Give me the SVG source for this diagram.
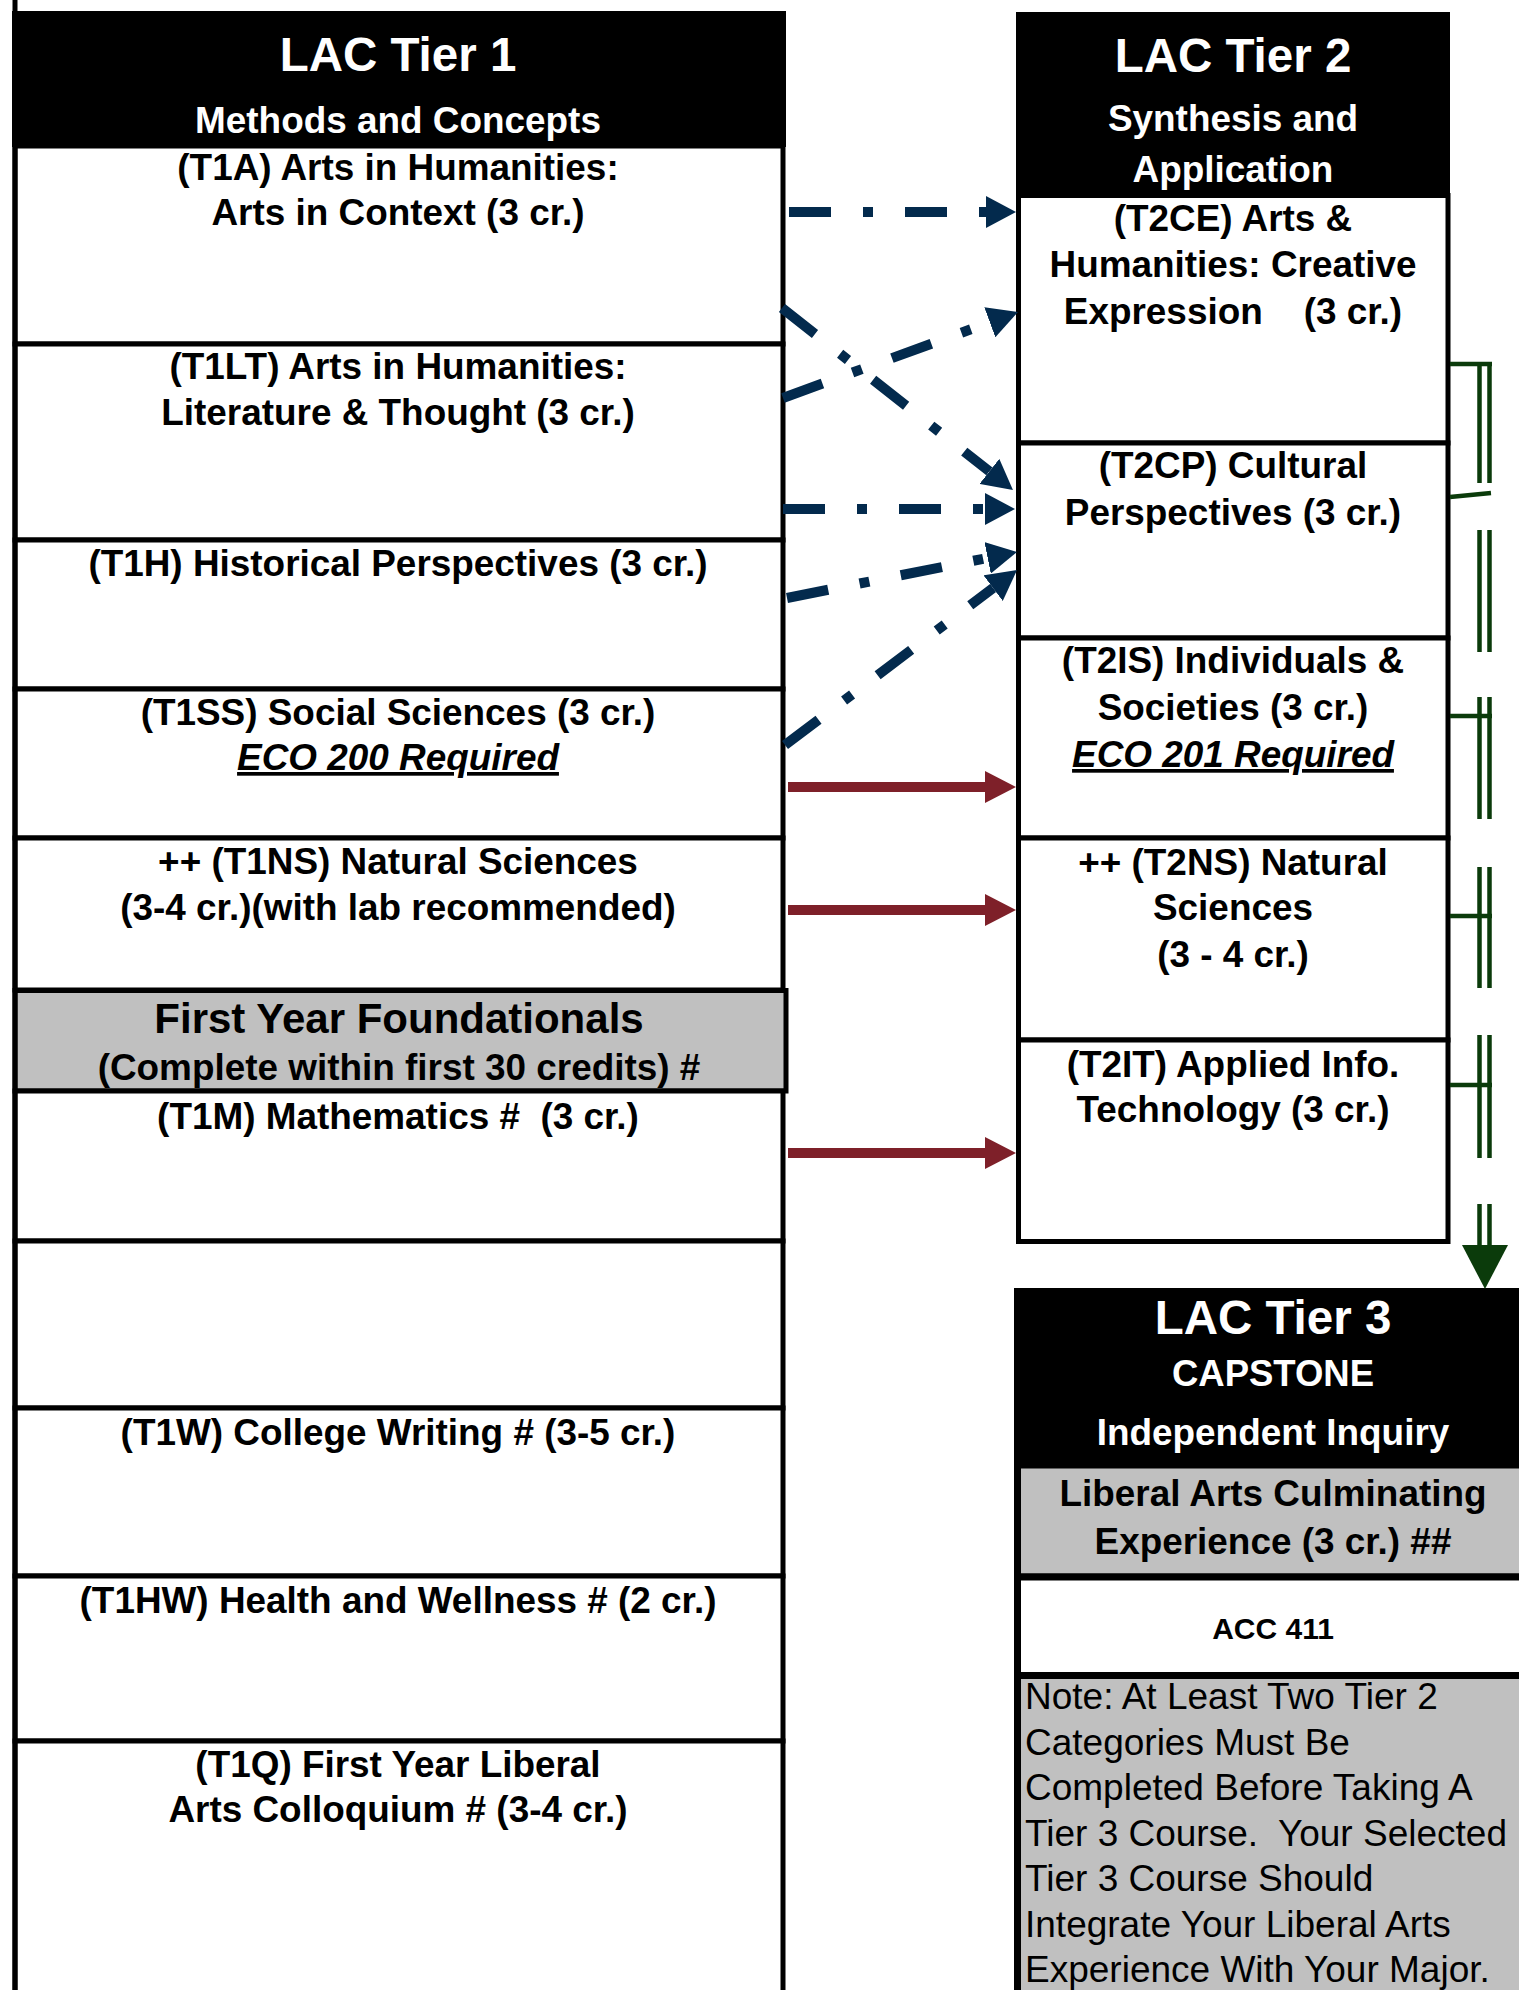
<svg xmlns="http://www.w3.org/2000/svg" width="1519" height="1990" viewBox="0 0 1519 1990">
<defs>
<style>
.box{fill:#fff;stroke:#000;stroke-width:5}
.gbox{fill:#c0c0c0;stroke:#000;stroke-width:5}
.box3{fill:#fff;stroke:#000;stroke-width:7}
.gbox3{fill:#c0c0c0;stroke:#000;stroke-width:7}
.hdr{fill:#000}
text{font-family:"Liberation Sans",Arial,sans-serif;font-weight:bold;font-size:36.9px;text-anchor:middle;fill:#000;white-space:pre}
.w{fill:#fff}
.big{font-size:47.5px}
.ital{font-style:italic;text-decoration:underline}
.note{font-weight:normal;font-size:37px;text-anchor:start}
.blue{fill:none;stroke:#032a4d;stroke-width:10;stroke-dasharray:42 32 10 32}
.red{fill:none;stroke:#7e2029;stroke-width:10}
.grn{fill:none;stroke:#0b3b0b;stroke-width:4.5}
</style>
<marker id="ab" viewBox="0 -16 30 32" markerUnits="userSpaceOnUse" markerWidth="30" markerHeight="32" refX="0" refY="0" orient="auto"><path d="M0,-16 L30,0 L0,16 z" fill="#032a4d"/></marker>
<marker id="ar" viewBox="0 -16 31 32" markerUnits="userSpaceOnUse" markerWidth="31" markerHeight="32" refX="0" refY="0" orient="auto"><path d="M0,-16 L31,0 L0,16 z" fill="#7e2029"/></marker>
</defs>
<rect width="1519" height="1990" fill="#fff"/>

<g id="tier1">
<g id="t1-header"><rect class="hdr" x="12" y="11" width="774" height="136"/>
<text class="w big" x="398" y="71">LAC Tier 1</text>
<text class="w" x="398" y="133">Methods and Concepts</text></g>
<g id="T1A"><rect class="box" x="15" y="146" width="768" height="198"/>
<text x="398" y="180">(T1A) Arts in Humanities:</text>
<text x="398" y="225">Arts in Context (3 cr.)</text></g>
<g id="T1LT"><rect class="box" x="15" y="344" width="768" height="196"/>
<text x="398" y="379">(T1LT) Arts in Humanities:</text>
<text x="398" y="425">Literature &amp; Thought (3 cr.)</text></g>
<g id="T1H"><rect class="box" x="15" y="540" width="768" height="149"/>
<text x="398" y="576">(T1H) Historical Perspectives (3 cr.)</text></g>
<g id="T1SS"><rect class="box" x="15" y="689" width="768" height="149"/>
<text x="398" y="725">(T1SS) Social Sciences (3 cr.)</text>
<text class="ital" x="398" y="770">ECO 200 Required</text></g>
<g id="T1NS"><rect class="box" x="15" y="838" width="768" height="152"/>
<text x="398" y="874">++ (T1NS) Natural Sciences</text>
<text x="398" y="920">(3-4 cr.)(with lab recommended)</text></g>
<g id="FYF"><rect class="gbox" x="15" y="990.5" width="771" height="100.5"/>
<text x="399" y="1033" style="font-size:42px">First Year Foundationals</text>
<text x="399" y="1080">(Complete within first 30 credits) #</text></g>
<g id="T1M"><rect class="box" x="15" y="1091" width="768" height="150"/>
<text x="398" y="1129">(T1M) Mathematics #  (3 cr.)</text></g>
<g id="T1-empty"><rect class="box" x="15" y="1241" width="768" height="167"/></g>
<g id="T1W"><rect class="box" x="15" y="1408" width="768" height="168"/>
<text x="398" y="1445">(T1W) College Writing # (3-5 cr.)</text></g>
<g id="T1HW"><rect class="box" x="15" y="1576" width="768" height="165"/>
<text x="398" y="1613">(T1HW) Health and Wellness # (2 cr.)</text></g>
<g id="T1Q"><rect class="box" x="15" y="1741" width="768" height="270"/>
<text x="398" y="1777">(T1Q) First Year Liberal</text>
<text x="398" y="1822">Arts Colloquium # (3-4 cr.)</text></g>
<line x1="15" y1="0" x2="15" y2="1990" stroke="#000" stroke-width="5"/>
</g>

<g id="tier2">
<g id="t2-header"><rect class="hdr" x="1016" y="12" width="434" height="184"/>
<text class="w big" x="1233" y="72">LAC Tier 2</text>
<text class="w" x="1233" y="131">Synthesis and</text>
<text class="w" x="1233" y="182">Application</text></g>
<g id="T2CE"><rect class="box" x="1018.5" y="195.5" width="429.5" height="247.5"/>
<text x="1233" y="231">(T2CE) Arts &amp;</text>
<text x="1233" y="277">Humanities: Creative</text>
<text x="1233" y="324">Expression    (3 cr.)</text></g>
<g id="T2CP"><rect class="box" x="1018.5" y="443" width="429.5" height="195"/>
<text x="1233" y="478">(T2CP) Cultural</text>
<text x="1233" y="525">Perspectives (3 cr.)</text></g>
<g id="T2IS"><rect class="box" x="1018.5" y="638" width="429.5" height="200"/>
<text x="1233" y="673">(T2IS) Individuals &amp;</text>
<text x="1233" y="720">Societies (3 cr.)</text>
<text class="ital" x="1233" y="767">ECO 201 Required</text></g>
<g id="T2NS"><rect class="box" x="1018.5" y="838" width="429.5" height="202"/>
<text x="1233" y="875">++ (T2NS) Natural</text>
<text x="1233" y="920">Sciences</text>
<text x="1233" y="967">(3 - 4 cr.)</text></g>
<g id="T2IT"><rect class="box" x="1018.5" y="1040" width="429.5" height="201.5"/>
<text x="1233" y="1077">(T2IT) Applied Info.</text>
<text x="1233" y="1122">Technology (3 cr.)</text></g>
</g>

<g id="tier3">
<g id="t3-header"><rect class="hdr" x="1014" y="1288" width="510" height="178"/>
<text class="w big" x="1273" y="1334">LAC Tier 3</text>
<text class="w" x="1273" y="1386" style="font-size:36.5px">CAPSTONE</text>
<text class="w" x="1273" y="1445">Independent Inquiry</text></g>
<g id="LACE"><rect class="gbox3" x="1017.5" y="1465" width="520" height="112"/>
<text x="1273" y="1506">Liberal Arts Culminating</text>
<text x="1273" y="1554">Experience (3 cr.) ##</text></g>
<g id="ACC411"><rect class="box3" x="1017.5" y="1577" width="520" height="98.5"/>
<text x="1273" y="1639" style="font-size:30px">ACC 411</text></g>
<g id="Note"><rect class="gbox3" x="1017.5" y="1675.5" width="520" height="340"/>
<text class="note" x="1025" y="1709">Note: At Least Two Tier 2</text>
<text class="note" x="1025" y="1755">Categories Must Be</text>
<text class="note" x="1025" y="1800">Completed Before Taking A</text>
<text class="note" x="1025" y="1846">Tier 3 Course.  Your Selected</text>
<text class="note" x="1025" y="1891">Tier 3 Course Should</text>
<text class="note" x="1025" y="1937">Integrate Your Liberal Arts</text>
<text class="note" x="1025" y="1982">Experience With Your Major.</text></g>
</g>

<g id="connectors">
<path class="blue" d="M789,212 L986,212" marker-end="url(#ab)"/>
<path class="blue" d="M782,308 L989.4,471.4" marker-end="url(#ab)"/>
<path class="blue" d="M783,398 L989.8,322.3" marker-end="url(#ab)"/>
<path class="blue" d="M783,509 L985,509" marker-end="url(#ab)"/>
<path class="blue" d="M787,598 L987.6,557.9" marker-end="url(#ab)"/>
<path class="blue" d="M785,745 L993.1,588.1" marker-end="url(#ab)"/>
<path class="red" d="M788,787 L985,787" marker-end="url(#ar)"/>
<path class="red" d="M788,910 L985,910" marker-end="url(#ar)"/>
<path class="red" d="M788,1153 L985,1153" marker-end="url(#ar)"/>
<g id="green">
<path class="grn" d="M1479.5,362 V483 M1489.5,362 V483 M1450,364 H1492"/>
<path class="grn" d="M1450,497 L1491,493"/>
<path class="grn" d="M1479.5,530 V652 M1489.5,530 V652"/>
<path class="grn" d="M1479.5,697 V819 M1489.5,697 V819 M1450,716 H1492"/>
<path class="grn" d="M1479.5,867 V988 M1489.5,867 V988 M1450,916 H1492"/>
<path class="grn" d="M1479.5,1035 V1158 M1489.5,1035 V1158 M1450,1085 H1492"/>
<path class="grn" d="M1479.5,1204 V1247 M1489.5,1204 V1247"/>
<polygon points="1462,1245 1508,1245 1485,1289" fill="#0b3b0b"/>
</g>
</g>
</svg>
